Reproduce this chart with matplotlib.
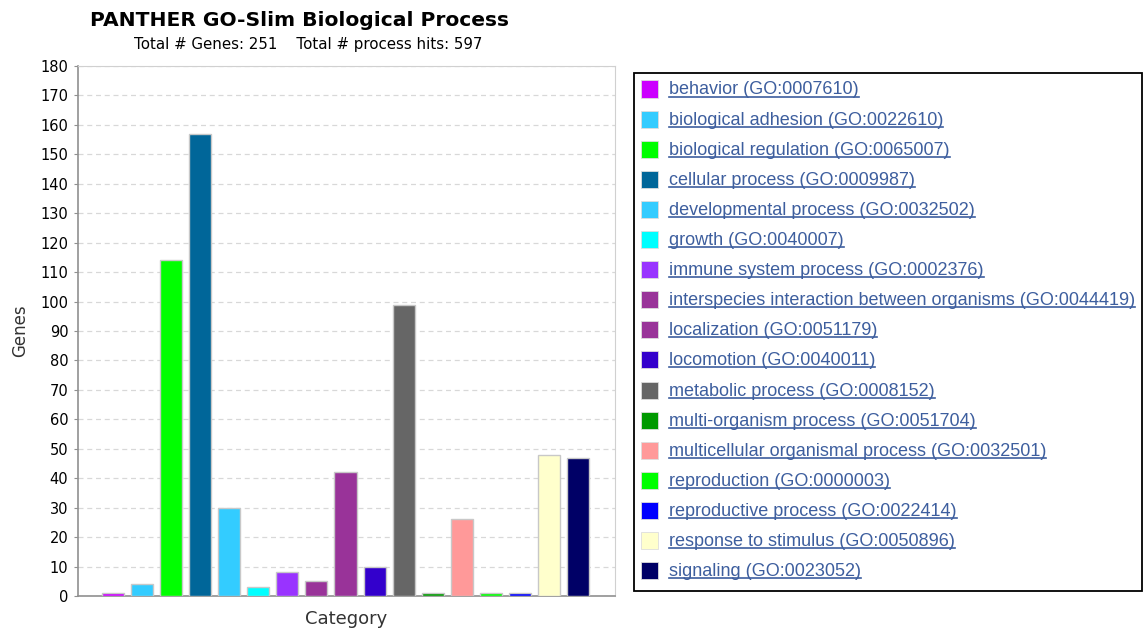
import matplotlib
matplotlib.use("Agg")
import matplotlib.pyplot as plt
from matplotlib.patches import Rectangle
from matplotlib.lines import Line2D

# data
categories = ["behavior", "biological adhesion", "biological regulation", "cellular process",
              "developmental process", "growth", "immune system process",
              "interspecies interaction between organisms", "localization", "locomotion",
              "metabolic process", "multi-organism process", "multicellular organismal process",
              "reproduction", "reproductive process", "response to stimulus", "signaling"]
go_ids = ["GO:0007610", "GO:0022610", "GO:0065007", "GO:0009987", "GO:0032502", "GO:0040007",
          "GO:0002376", "GO:0044419", "GO:0051179", "GO:0040011", "GO:0008152", "GO:0051704",
          "GO:0032501", "GO:0000003", "GO:0022414", "GO:0050896", "GO:0023052"]
genes = [1, 4, 114, 157, 30, 3, 8, 5, 42, 10, 99, 1, 26, 1, 1, 48, 47]
colors = ["#cc00ff", "#33ccff", "#00ff00", "#006699", "#33ccff", "#00ffff", "#9933ff",
          "#993399", "#993399", "#3300cc", "#666666", "#009900", "#ff9999", "#00ff00",
          "#0000ff", "#ffffcc", "#000066"]

W, H = 1144, 632
fig = plt.figure(figsize=(W / 100, H / 100), dpi=100)
fig.patch.set_facecolor("white")

# plot area
ax = fig.add_axes([78 / W, 1 - 596 / H, (615 - 78) / W, (596 - 66) / H])
x = list(range(len(genes)))
ax.bar(x, genes, width=0.76, color=colors, edgecolor="#c8c8c8", linewidth=1, zorder=3)
ax.set_xlim(-1.2, len(genes) - 1 + 1.27)
ax.set_ylim(0, 180)
ax.set_yticks(range(0, 181, 10))
ax.set_xticks([])
ax.yaxis.grid(True, linestyle=(0, (4, 3)), color="#d8d8d8", linewidth=0.9, zorder=0)
for s in ["top", "right"]:
    ax.spines[s].set_color("#d0d0d0")
for s in ["left", "bottom"]:
    ax.spines[s].set_color("#909090")
    ax.spines[s].set_linewidth(1.2)
ax.tick_params(axis="y", length=3, color="#909090", labelsize=10.5, pad=4)
ax.set_ylabel("Genes", fontsize=12, labelpad=8, color="#333333")
ax.set_xlabel("Category", fontsize=13, labelpad=10, color="#333333")

# titles
fig.text(300 / W, 1 - 20 / H, "PANTHER GO-Slim Biological Process", ha="center", va="center",
         fontsize=14.6, fontweight="bold")
fig.text(308 / W, 1 - 44 / H, "Total # Genes: 251    Total # process hits: 597",
         ha="center", va="center", fontsize=10.8)

# legend panel
fig.patches.append(Rectangle((634 / W, 1 - 591 / H), (1142 - 634) / W, (591 - 73) / H,
                             transform=fig.transFigure, facecolor="white",
                             edgecolor="black", linewidth=1.3))
link = "#3d5e9e"
texts = []
for i, (name, gid, c) in enumerate(zip(categories, go_ids, colors)):
    yc = 89 + i * 30.1
    fig.patches.append(Rectangle((641 / W, 1 - (yc + 8.5) / H), 17 / W, 17 / H,
                                 transform=fig.transFigure, facecolor=c,
                                 edgecolor="#dddddd", linewidth=0.6))
    t = fig.text(669 / W, 1 - (yc + 1) / H, f"{name} ({gid})", ha="left", va="center",
                 fontsize=13.0, family="Liberation Sans", color=link)
    texts.append(t)

# underline the link texts
fig.canvas.draw()
r = fig.canvas.get_renderer()
for t in texts:
    bb = t.get_window_extent(renderer=r)
    yl = (bb.y0 + 2) / H
    fig.lines.append(Line2D([bb.x0 / W, bb.x1 / W], [yl, yl], transform=fig.transFigure,
                            color=link, linewidth=1.2))

fig.savefig("out.png", dpi=100)
